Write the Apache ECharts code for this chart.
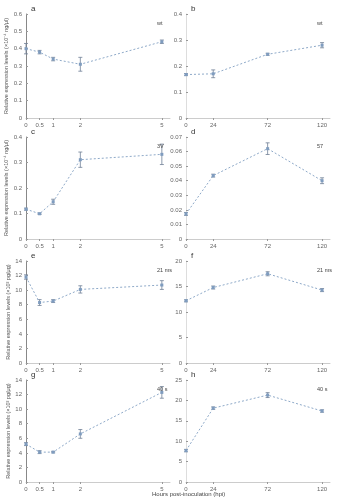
<!DOCTYPE html>
<html><head><meta charset="utf-8">
<script src="https://cdn.jsdelivr.net/npm/echarts@6/dist/echarts.min.js"></script>
<style>html,body{margin:0;padding:0;background:#fff}#c{width:344px;height:500px}</style>
</head><body><div id="c"></div>
<script>
var xLeft = [0, 0.5, 1, 2, 5];
var xRight = [0, 24, 72, 120];

var aVals = [0.40, 0.38, 0.34, 0.31, 0.44];
var aErr  = [0.03, 0.01, 0.01, 0.04, 0.01];
var bVals = [0.167, 0.17, 0.245, 0.28];
var bErr  = [0.004, 0.015, 0.004, 0.01];
var cVals = [0.117, 0.099, 0.146, 0.311, 0.332];
var cErr  = [0.004, 0.003, 0.01, 0.03, 0.04];
var dVals = [0.0172, 0.0435, 0.062, 0.040];
var dErr  = [0.001, 0.001, 0.004, 0.002];
var eVals = [11.8, 8.3, 8.5, 10.1, 10.7];
var eErr  = [0.3, 0.4, 0.2, 0.5, 0.6];
var fVals = [12.2, 14.8, 17.5, 14.3];
var fErr  = [0.2, 0.3, 0.4, 0.3];
var gVals = [5.2, 4.1, 4.1, 6.6, 12.3];
var gErr  = [0.2, 0.2, 0.1, 0.6, 0.8];
var hVals = [7.7, 18.1, 21.3, 17.4];
var hErr  = [0.3, 0.3, 0.6, 0.3];

var panels = [
  {id:'a', x:xLeft, v:aVals, e:aErr, max:0.6, iv:0.1, note:'wt', col:0, row:0},
  {id:'b', x:xRight, v:bVals, e:bErr, max:0.4, iv:0.1, note:'wt', col:1, row:0},
  {id:'c', x:xLeft, v:cVals, e:cErr, max:0.4, iv:0.1, note:'3V', col:0, row:1},
  {id:'d', x:xRight, v:dVals, e:dErr, max:0.07, iv:0.01, note:'57', col:1, row:1},
  {id:'e', x:xLeft, v:eVals, e:eErr, max:14, iv:2, note:'21 ms', col:0, row:2},
  {id:'f', x:xRight, v:fVals, e:fErr, max:20, iv:5, note:'21 ms', col:1, row:2},
  {id:'g', x:xLeft, v:gVals, e:gErr, max:14, iv:2, note:'40 s', col:0, row:3},
  {id:'h', x:xRight, v:hVals, e:hErr, max:25, iv:5, note:'40 s', col:1, row:3}
];
var rowTops = [14, 137, 261, 380];
var rowH = [104, 102, 102, 102];
var colLeft = [26, 186];
var gw = 144;

var lineCol = '#8ea9c8';
var txtCol = '#666';
var grid=[], xAxis=[], yAxis=[], series=[], title=[];

panels.forEach(function(p, i){
  var left = colLeft[p.col], top = rowTops[p.row];
  grid.push({left:left, top:top, width:gw, height:rowH[p.row]});
  var xmax = p.col === 0 ? 5.3 : 127;
  xAxis.push({type:'value', gridIndex:i, min:0, max:xmax,
    axisLine:{show:true, lineStyle:{color:'#ccc', width:1}},
    axisTick:{show:true, customValues:p.x, length:2, lineStyle:{color:'#999'}},
    axisLabel:{customValues:p.x, fontSize:6, color:txtCol, margin:4},
    splitLine:{show:false}});
  yAxis.push({type:'value', gridIndex:i, min:0, max:p.max, interval:p.iv,
    axisLine:{show:true, lineStyle:{color: p.col===0 ? '#888' : '#ddd', width:1}},
    axisTick:{show:true, length:2, inside:true, lineStyle:{color:'#999'}},
    axisLabel:{fontSize:6, color:txtCol, margin:4,
      formatter:function(v){ return +v.toFixed(3) + ''; }},
    splitLine:{show:false},
    name: p.col===0 ? (p.row<2 ? 'Relative expression levels (×10⁻⁴ ng/μl)' : 'Relative expression levels (×10³ pg/μg)') : '',
    nameLocation:'middle', nameGap:15, nameRotate:90,
    nameTextStyle:{fontSize:5.5, color:'#555'}});
  var pts = p.x.map(function(x, k){ return [x, p.v[k]]; });
  series.push({type:'line', xAxisIndex:i, yAxisIndex:i, data:pts,
    symbol:'rect', symbolSize:3, itemStyle:{color:'#7f9cbf'},
    lineStyle:{color:lineCol, width:1, type:[2,2]}, silent:true, animation:false});
  var eb = p.x.map(function(x, k){ return [x, p.v[k]-p.e[k], p.v[k]+p.e[k]]; });
  series.push({type:'custom', xAxisIndex:i, yAxisIndex:i, data:eb, animation:false, silent:true,
    renderItem:function(params, api){
      var lo = api.coord([api.value(0), api.value(1)]);
      var hi = api.coord([api.value(0), api.value(2)]);
      var w = 2;
      var st = {stroke:'#6f7f95', lineWidth:0.8};
      return {type:'group', children:[
        {type:'line', shape:{x1:lo[0], y1:lo[1], x2:hi[0], y2:hi[1]}, style:st},
        {type:'line', shape:{x1:lo[0]-w, y1:lo[1], x2:lo[0]+w, y2:lo[1]}, style:st},
        {type:'line', shape:{x1:hi[0]-w, y1:hi[1], x2:hi[0]+w, y2:hi[1]}, style:st}
      ]};
    }});
  title.push({text:p.id, left:left, top:top-14, textStyle:{fontSize:8, color:'#333', fontWeight:'normal'}});
  title.push({text:p.note, left:left+gw-18, top:top+1, textStyle:{fontSize:5.5, color:'#444', fontWeight:'normal'}});
});

var chart = echarts.init(document.getElementById('c'), null, {renderer:'canvas'});
chart.setOption({
  animation:false,
  title:title, grid:grid, xAxis:xAxis, yAxis:yAxis, series:series,
  graphic:[{type:'text', left:152, top:491, style:{text:'Hours post-inoculation (hpi)', fontSize:6, fill:'#444'}}]
});
</script></body></html>
